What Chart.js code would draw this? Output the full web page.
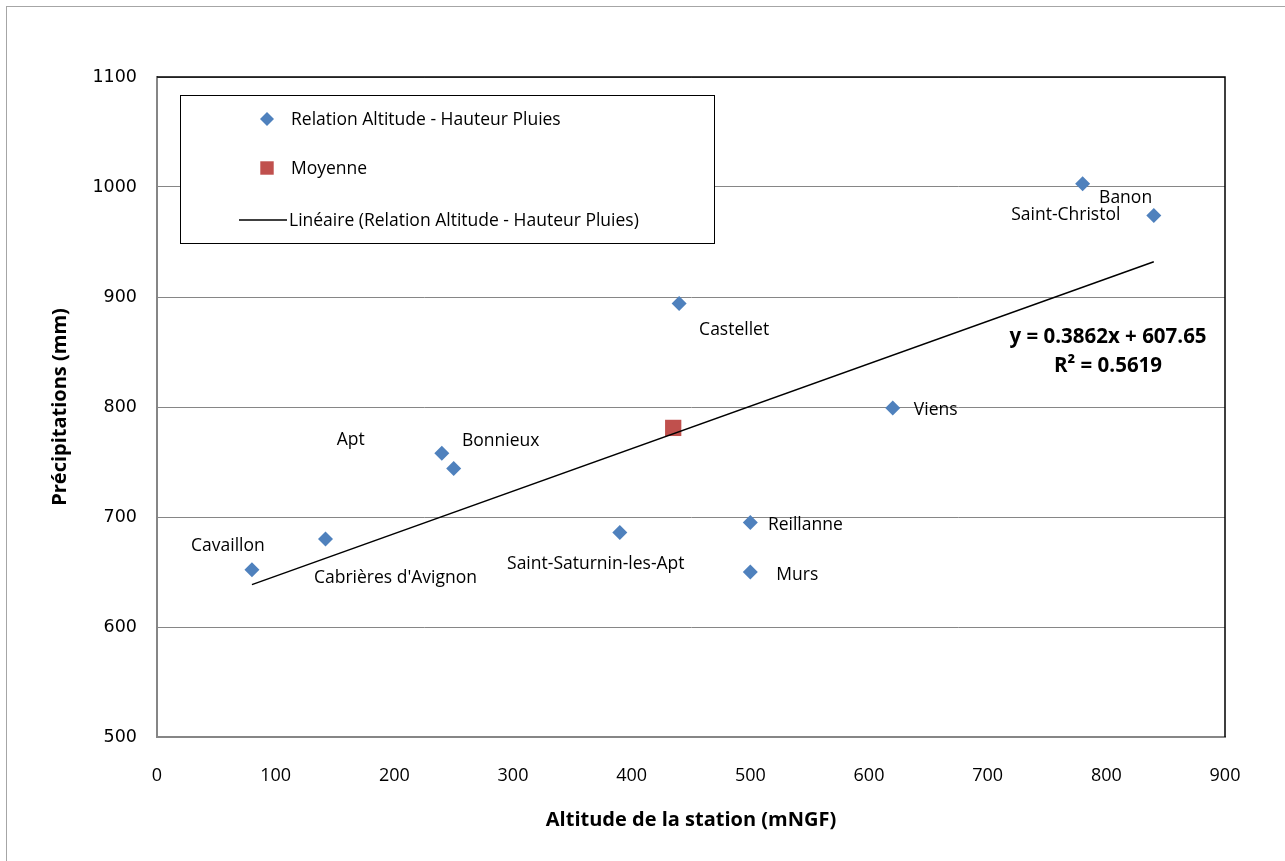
<!DOCTYPE html>
<html lang="fr">
<head>
<meta charset="utf-8">
<title>Précipitations et altitude</title>
<script src="https://cdn.jsdelivr.net/npm/chart.js@4.4.1/dist/chart.umd.min.js"></script>
<style>
  html, body { margin: 0; padding: 0; background: #fff; }
  #wrap { position: relative; width: 1285px; height: 861px; overflow: hidden; }
  #frame { position: absolute; left: 6px; top: 6px; width: 1300px; height: 900px;
           border-left: 1px solid #a6a6a6; border-top: 1px solid #a6a6a6; }
  #chart { position: absolute; left: 0; top: 0; }
</style>
</head>
<body>
<div id="wrap">
  <div id="frame"></div>
  <canvas id="chart" width="1285" height="861"></canvas>
</div>
<script>
// stations et mesures
const stations = ['Cavaillon', "Cabrières d'Avignon", 'Apt', 'Bonnieux', 'Saint-Saturnin-les-Apt',
  'Castellet', 'Reillanne', 'Murs', 'Viens', 'Banon', 'Saint-Christol'];
const altitudes = [80, 142, 240, 250, 390, 440, 500, 500, 620, 780, 840];
const pluies = [652, 680, 758, 744, 686, 894, 695, 650, 799, 1003, 974];
const moyenne = { x: 435, y: 781 };

// courbe de tendance (Excel)
const pente = 0.3862;
const origine = 607.65;
const r2 = 0.5619;

// décalage des étiquettes par rapport au point (px)
const labelShift = [[-24, -24], [70, 39], [-91, -13], [47, -28], [-24, 32],
  [55, 26], [55, 3], [47, 3], [43, 2], [43, 14], [-88, -1]];

const blue = '#4F81BD';
const red = '#C0504D';
const gray = '#868686';
const txtFont = '17.5px "Open Sans", Lato, sans-serif';
const boldFamily = '"Open Sans", Lato, sans-serif';

const xMin = Math.min(...altitudes), xMax = Math.max(...altitudes);
const trend = [xMin, xMax].map(x => ({ x, y: pente * x + origine }));

const decor = {
  id: 'decor',
  beforeDatasetsDraw(chart) {
    const { ctx, chartArea: a } = chart;
    ctx.save();
    ctx.strokeStyle = '#000';
    ctx.lineWidth = 1.5;
    ctx.beginPath();
    ctx.moveTo(a.left, a.top);
    ctx.lineTo(a.right, a.top);
    ctx.lineTo(a.right, a.bottom);
    ctx.stroke();
    ctx.restore();
  },
  afterDraw(chart) {
    const { ctx, chartArea: a, scales } = chart;
    ctx.save();
    ctx.fillStyle = '#000';
    ctx.font = txtFont;
    ctx.textAlign = 'center';
    ctx.textBaseline = 'middle';
    stations.forEach((s, i) => {
      const px = scales.x.getPixelForValue(altitudes[i]) + labelShift[i][0];
      const py = scales.y.getPixelForValue(pluies[i]) + labelShift[i][1];
      ctx.fillText(s, px, py);
    });

    // équation de la tendance
    ctx.font = 'bold 20.5px ' + boldFamily;
    ctx.fillText('y = ' + pente + 'x + ' + origine, a.right - 117, 337);
    ctx.fillText('R² = ' + r2, a.right - 117, 366);

    // légende
    const lx = a.left + 23, ly = a.top + 18;
    ctx.fillStyle = '#fff';
    ctx.fillRect(lx, ly, 534, 148);
    ctx.strokeStyle = '#000';
    ctx.lineWidth = 1;
    ctx.strokeRect(lx + 0.5, ly + 0.5, 534, 148);
    ctx.font = txtFont;
    ctx.textAlign = 'left';
    ctx.fillStyle = blue;
    Chart.helpers.drawPoint(ctx, { pointStyle: 'rectRot', radius: 7, borderWidth: 0 }, lx + 87, ly + 24);
    ctx.fillStyle = red;
    Chart.helpers.drawPoint(ctx, { pointStyle: 'rect', radius: 9.5, borderWidth: 0 }, lx + 87, ly + 73);
    ctx.strokeStyle = '#000';
    ctx.lineWidth = 1.5;
    ctx.beginPath();
    ctx.moveTo(lx + 59, ly + 125);
    ctx.lineTo(lx + 107, ly + 125);
    ctx.stroke();
    ctx.fillStyle = '#000';
    ctx.fillText('Relation Altitude - Hauteur Pluies', lx + 111, ly + 25);
    ctx.fillText('Moyenne', lx + 111, ly + 74);
    ctx.fillText('Linéaire (Relation Altitude - Hauteur Pluies)', lx + 109, ly + 126);
    ctx.restore();
  }
};

new Chart(document.getElementById('chart'), {
  type: 'scatter',
  data: {
    datasets: [
      { label: 'Linéaire (Relation Altitude - Hauteur Pluies)', type: 'line', data: trend,
        borderColor: '#000', borderWidth: 1.5, pointRadius: 0, fill: false, order: 0 },
      { label: 'Relation Altitude - Hauteur Pluies',
        data: altitudes.map((x, i) => ({ x, y: pluies[i] })),
        pointStyle: 'rectRot', pointRadius: 7.5, backgroundColor: blue, borderWidth: 0, order: 1 },
      { label: 'Moyenne', data: [moyenne], pointStyle: 'rect', pointRadius: 11.5,
        backgroundColor: red, borderWidth: 0, order: 2 }
    ]
  },
  options: {
    responsive: false,
    animation: false,
    devicePixelRatio: 1,
    layout: { padding: { top: 77, right: 60, left: 0, bottom: 0 } },
    plugins: { legend: { display: false }, tooltip: { enabled: false } },
    scales: {
      x: {
        type: 'linear', min: 0, max: 900,
        ticks: { stepSize: 100, padding: 28, color: '#000', callback: v => String(v),
          font: { family: '"Liberation Sans Narrow", "Open Sans", sans-serif', size: 18 } },
        grid: { display: false, drawTicks: false },
        border: { color: gray, width: 2 },
        title: { display: true, text: 'Altitude de la station (mNGF)', color: '#000',
          font: { family: boldFamily, size: 20, weight: 'bold' },
          padding: { top: 0, bottom: 29 } },
        afterFit(s) { s.height = 124; }
      },
      y: {
        min: 500, max: 1100,
        ticks: { stepSize: 100, padding: 20, color: '#000', callback: v => String(v),
          font: { family: '"DejaVu Sans", sans-serif', size: 17.5 } },
        grid: { color: gray, lineWidth: 1, drawTicks: false },
        border: { color: gray, width: 2 },
        title: { display: true, text: 'Précipitations (mm)', color: '#000',
          font: { family: boldFamily, size: 20, weight: 'bold' },
          padding: { top: 48, bottom: 0 } },
        afterFit(s) { s.width = 157; }
      }
    }
  },
  plugins: [decor]
});
</script>
</body>
</html>
